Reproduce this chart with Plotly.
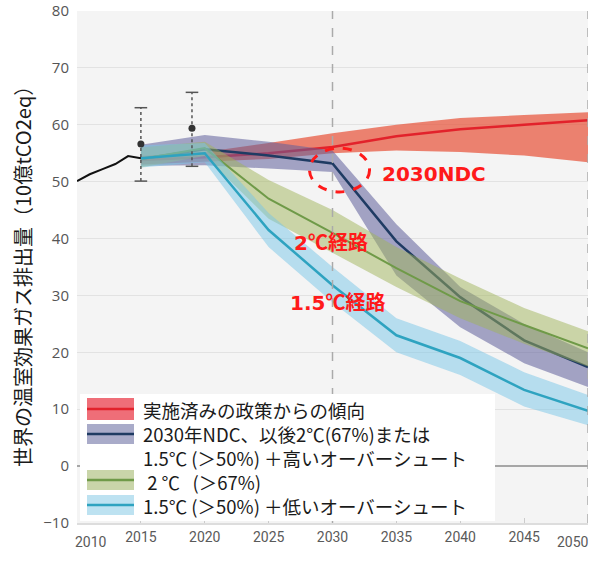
import plotly.graph_objects as go

# ---------------- data ----------------
hist_years = [2010, 2011, 2012, 2013, 2014, 2015]
hist_vals = [50.1, 51.3, 52.2, 53.1, 54.5, 54.1]

obs_years = [2015, 2019]
obs_vals = [56.6, 59.4]
obs_low = [50.1, 52.7]
obs_high = [63.0, 65.7]

years = [2015, 2020, 2025, 2030, 2035, 2040, 2045, 2050]

cur_mid = [53.8, 54.3, 55.0, 56.1, 58.0, 59.2, 60.0, 60.8]
cur_hi = [54.5, 55.2, 56.8, 58.5, 60.0, 61.2, 61.7, 62.2]
cur_lo = [53.0, 53.5, 54.0, 55.0, 55.5, 55.2, 54.6, 53.4]

ndc_mid = [54.0, 55.7, 54.6, 53.2, 39.5, 29.7, 22.1, 17.4]
ndc_hi = [56.5, 58.2, 57.0, 55.5, 42.5, 31.5, 25.0, 20.0]
ndc_lo = [52.8, 52.9, 52.3, 51.7, 33.5, 24.4, 18.1, 13.9]

c2_mid = [54.0, 55.9, 47.0, 41.0, 34.8, 29.0, 24.8, 20.7]
c2_hi = [56.0, 57.0, 50.3, 45.0, 38.5, 33.0, 27.8, 23.7]
c2_lo = [52.5, 54.5, 43.5, 37.5, 31.5, 26.0, 21.5, 17.5]

c15_mid = [54.1, 55.0, 41.5, 31.8, 23.0, 19.0, 13.4, 9.7]
c15_hi = [56.4, 56.8, 44.5, 35.0, 26.0, 22.0, 16.5, 12.5]
c15_lo = [52.5, 53.4, 38.5, 28.8, 20.0, 16.0, 10.5, 7.2]

x_ticks = [2010, 2015, 2020, 2025, 2030, 2035, 2040, 2045, 2050]

legend_lines = [
    "実施済みの政策からの傾向",
    "2030年NDC、以後2℃(67%)または",
    "1.5℃ (＞50%) ＋高いオーバーシュート",
    "\u00a02 ℃\u00a0\u00a0\u00a0(＞67%)",
    "1.5℃ (＞50%) ＋低いオーバーシュート",
]

y_title = "世界の温室効果ガス排出量（10億tCO2eq）"

# ---------------- styles ----------------
scen = [
    (cur_lo, cur_hi, cur_mid, "rgba(232,85,60,0.72)", "#e2222b", 2.5),
    (ndc_lo, ndc_hi, ndc_mid, "rgba(95,95,155,0.55)", "#1f3b63", 2.5),
    (c2_lo, c2_hi, c2_mid, "rgba(160,180,90,0.5)", "#6f9a48", 2.0),
    (c15_lo, c15_hi, c15_mid, "rgba(120,198,232,0.5)", "#2ea3c0", 2.5),
]
swatch_fill = ["#ef6e78", "#a9abc9", "#c9d5a9", "#bde2f1"]
swatch_line = ["#e2222b", "#1f3b63", "#6f9a48", "#2ea3c0"]

fig = go.Figure()

for lo, hi, mid, fc, lc, lw in scen:
    fig.add_trace(go.Scatter(x=years, y=lo, mode="lines", line=dict(width=0),
                             showlegend=False, hoverinfo="skip"))
    fig.add_trace(go.Scatter(x=years, y=hi, mode="lines", line=dict(width=0),
                             fill="tonexty", fillcolor=fc, showlegend=False,
                             hoverinfo="skip"))
    fig.add_trace(go.Scatter(x=years, y=mid, mode="lines",
                             line=dict(color=lc, width=lw), showlegend=False))

fig.add_trace(go.Scatter(x=hist_years, y=hist_vals, mode="lines",
                         line=dict(color="#111111", width=2), showlegend=False))

for yr, v, lo, hi in zip(obs_years, obs_vals, obs_low, obs_high):
    fig.add_trace(go.Scatter(x=[yr, yr], y=[lo, hi], mode="lines",
                             line=dict(color="#555555", width=1.5, dash="dot"),
                             showlegend=False))
    fig.add_trace(go.Scatter(x=[yr, yr], y=[lo, hi], mode="markers",
                             marker=dict(symbol="line-ew", size=9,
                                         line=dict(color="#555555", width=1.5)),
                             showlegend=False))
fig.add_trace(go.Scatter(x=obs_years, y=obs_vals, mode="markers",
                         marker=dict(color="#333333", size=7), showlegend=False))

# ---------------- layout helpers ----------------
W, H = 601, 564
L, R, T, B = 77, 588, 11, 523


def px(xp):
    return (xp - L) / (R - L)


def py(yp):
    return (B - yp) / (B - T)


shapes = []
for xv in [2030, 2050]:
    shapes.append(dict(type="line", xref="x", yref="paper", x0=xv, x1=xv,
                       y0=0, y1=1, line=dict(color="#aaaaaa", width=1.5, dash="dash"),
                       layer="above"))

shapes.append(dict(type="circle", xref="x", yref="y", x0=2028.2, x1=2032.9,
                   y0=48.2, y1=55.9, line=dict(color="#ff1a1a", width=3, dash="dash"),
                   layer="above"))

# legend box
shapes.append(dict(type="rect", xref="paper", yref="paper", x0=px(80), x1=px(495),
                   y0=py(521), y1=py(394), fillcolor="white", line=dict(width=0),
                   layer="above"))

rows_sw = [(398, 420), (424, 444), (470, 490), (495, 515)]
for i, (a, b) in enumerate(rows_sw):
    shapes.append(dict(type="rect", xref="paper", yref="paper", x0=px(87), x1=px(134),
                       y0=py(b), y1=py(a), fillcolor=swatch_fill[i], line=dict(width=0),
                       layer="above"))
    m = (a + b) / 2
    shapes.append(dict(type="line", xref="paper", yref="paper", x0=px(87), x1=px(134),
                       y0=py(m), y1=py(m), line=dict(color=swatch_line[i], width=2.5),
                       layer="above"))

annotations = [
    dict(xref="paper", yref="paper", x=px(141), y=py(458),
         text="<br>".join(legend_lines), showarrow=False, xanchor="left",
         yanchor="middle", align="left",
         font=dict(family="Noto Sans CJK JP", size=18.5, color="#1a1a1a")),
]

DJ = "DejaVu Sans"
CJ = "Noto Sans CJK JP"
red_font = dict(family=DJ, size=20, color="#ff1a1a")
annotations += [
    dict(x=2037.95, y=51.3, xref="x", yref="y", text="<b>2030NDC</b>", showarrow=False,
         font=red_font),
    dict(x=2029.9, y=39.5, xref="x", yref="y",
         text='<b>2<span style="font-family:%s">℃経路</span></b>' % CJ, showarrow=False,
         font=red_font),
    dict(x=2030.4, y=29.0, xref="x", yref="y",
         text='<b>1.5<span style="font-family:%s">℃経路</span></b>' % CJ, showarrow=False,
         font=red_font),
    dict(xref="paper", yref="paper", x=px(22), y=py(272), text=y_title, textangle=-90,
         showarrow=False, xanchor="center", yanchor="middle",
         font=dict(family=CJ, size=20, color="#1a1a1a")),
]

# edge tick labels pushed inward like the reference
tick_font = dict(family="Roboto", size=14, color="#5a5a5a")
annotations += [
    dict(xref="paper", yref="paper", x=px(91), y=py(542), text=str(x_ticks[0]),
         showarrow=False, xanchor="center", yanchor="middle", font=tick_font),
    dict(xref="paper", yref="paper", x=px(573), y=py(542), text=str(x_ticks[-1]),
         showarrow=False, xanchor="center", yanchor="middle", font=tick_font),
]
tick_text = [""] + [str(v) for v in x_ticks[1:-1]] + [""]

fig.update_layout(
    width=W, height=H,
    margin=dict(l=L, r=W - R, t=T, b=H - B, pad=0, autoexpand=False),
    paper_bgcolor="white",
    plot_bgcolor="#f4f4f4",
    showlegend=False,
    shapes=shapes,
    annotations=annotations,
    font=dict(family="Open Sans, Roboto", size=14, color="#555555"),
)
fig.update_xaxes(range=[2010, 2050], tickvals=x_ticks, ticktext=tick_text,
                 showgrid=False, zeroline=False, showline=True, linecolor="#dddddd", linewidth=1.5,
                 ticks="inside", ticklen=5, tickcolor="#cccccc", automargin=False,
                 tickfont=tick_font)
fig.update_yaxes(range=[-10, 80], dtick=10, showgrid=True, gridcolor="#e2e2e2", gridwidth=1,
                 zeroline=True, zerolinecolor="#a6a6a6", zerolinewidth=2, automargin=False,
                 showline=False, ticks="", ticklabelstandoff=7,
                 tickfont=dict(family="Open Sans", size=15, color="#555555"))

fig.write_html("out.html", config={"displayModeBar": False},
               post_script="document.body.style.margin='0px';")
